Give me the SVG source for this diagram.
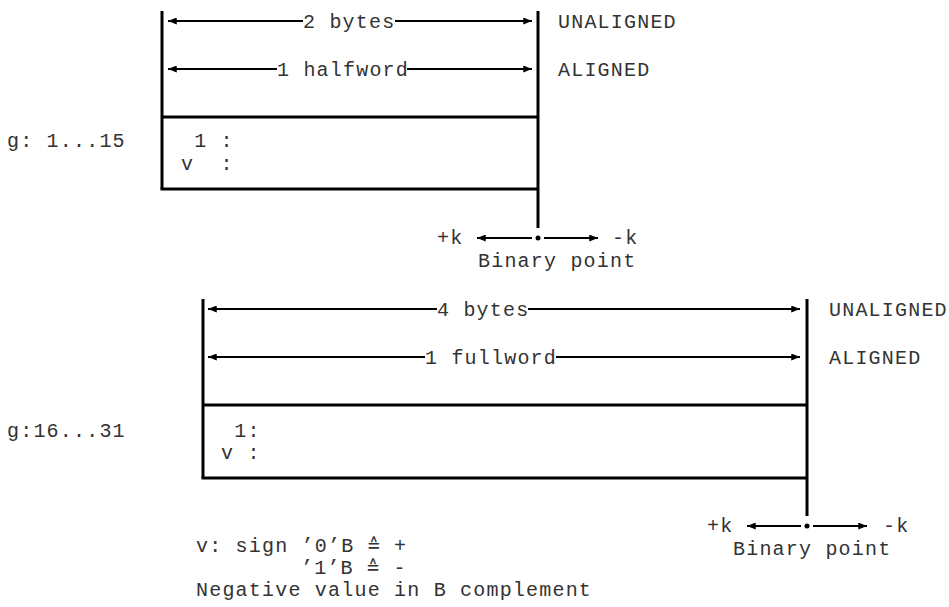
<svg xmlns="http://www.w3.org/2000/svg" width="949" height="607" viewBox="0 0 949 607">
  <defs>
    <marker id="arrowhead" viewBox="0 0 10 8" refX="10" refY="4" markerWidth="9" markerHeight="7" markerUnits="userSpaceOnUse" orient="auto">
      <path d="M0,0 L10,4 L0,8 Z" fill="#000"/>
    </marker>
    <style>
      text { font-family: "Liberation Mono", "DejaVu Sans Mono", monospace; font-size: 20px; letter-spacing: 1.2px; fill: #333; white-space: pre; }
      .frame { stroke: #000; stroke-width: 3; fill: none; }
      .arrow { stroke: #000; stroke-width: 2; fill: none; marker-end: url(#arrowhead); }
      .dot { fill: #000; }
    </style>
  </defs>

  <!-- Halfword layout (g: 1...15) -->
  <g id="halfword">
    <line class="frame" x1="162" y1="11" x2="162" y2="189"/>
    <line class="frame" x1="538" y1="11" x2="538" y2="228"/>
    <line class="frame" x1="162" y1="117" x2="538" y2="117"/>
    <line class="frame" x1="160.5" y1="189" x2="538" y2="189"/>
    <text x="7" y="147">g: 1...15</text>
    <text x="181" y="147"> 1 :</text>
    <text x="181" y="170">v  :</text>
    <text x="558" y="28">UNALIGNED</text>
    <text x="558" y="76">ALIGNED</text>
    <text x="303" y="28">2 bytes</text>
    <text x="277" y="76">1 halfword</text>
  </g>

  <g id="halfword-point">
    <circle class="dot" cx="538" cy="238" r="2.5"/>
    <text x="437" y="244">+k</text>
    <text x="612" y="244">-k</text>
    <text x="478" y="267">Binary point</text>
  </g>

  <!-- Fullword layout (g:16...31) -->
  <g id="fullword">
    <line class="frame" x1="203" y1="299" x2="203" y2="478"/>
    <line class="frame" x1="807" y1="299" x2="807" y2="516"/>
    <line class="frame" x1="203" y1="405" x2="807" y2="405"/>
    <line class="frame" x1="201.5" y1="478" x2="807" y2="478"/>
    <text x="7" y="437">g:16...31</text>
    <text x="221" y="437"> 1:</text>
    <text x="221" y="459">v :</text>
    <text x="829" y="316">UNALIGNED</text>
    <text x="829" y="364">ALIGNED</text>
    <text x="437" y="316">4 bytes</text>
    <text x="425" y="364">1 fullword</text>
  </g>

  <g id="fullword-point">
    <circle class="dot" cx="807" cy="526" r="2.5"/>
    <text x="707" y="532">+k</text>
    <text x="883" y="532">-k</text>
    <text x="733" y="555">Binary point</text>
  </g>

  <g id="legend">
    <text x="196" y="552">v: sign ’0’B ≙ +</text>
    <text x="301" y="574">’1’B ≙ -</text>
    <text x="196" y="596">Negative value in B complement</text>
  </g>

  <!-- Dimension arrows and binary point arrows -->
  <g id="connectors">
    <line class="arrow" x1="303" y1="21" x2="168" y2="21"/>
    <line class="arrow" x1="395" y1="21" x2="532" y2="21"/>
    <line class="arrow" x1="277" y1="69" x2="168" y2="69"/>
    <line class="arrow" x1="407" y1="69" x2="532" y2="69"/>
    <line class="arrow" x1="532" y1="238" x2="477" y2="238"/>
    <line class="arrow" x1="544" y1="238" x2="598" y2="238"/>

    <line class="arrow" x1="437" y1="309" x2="208" y2="309"/>
    <line class="arrow" x1="528" y1="309" x2="800" y2="309"/>
    <line class="arrow" x1="425" y1="357" x2="208" y2="357"/>
    <line class="arrow" x1="556" y1="357" x2="800" y2="357"/>
    <line class="arrow" x1="801" y1="526" x2="747" y2="526"/>
    <line class="arrow" x1="813" y1="526" x2="867" y2="526"/>
  </g>
</svg>
